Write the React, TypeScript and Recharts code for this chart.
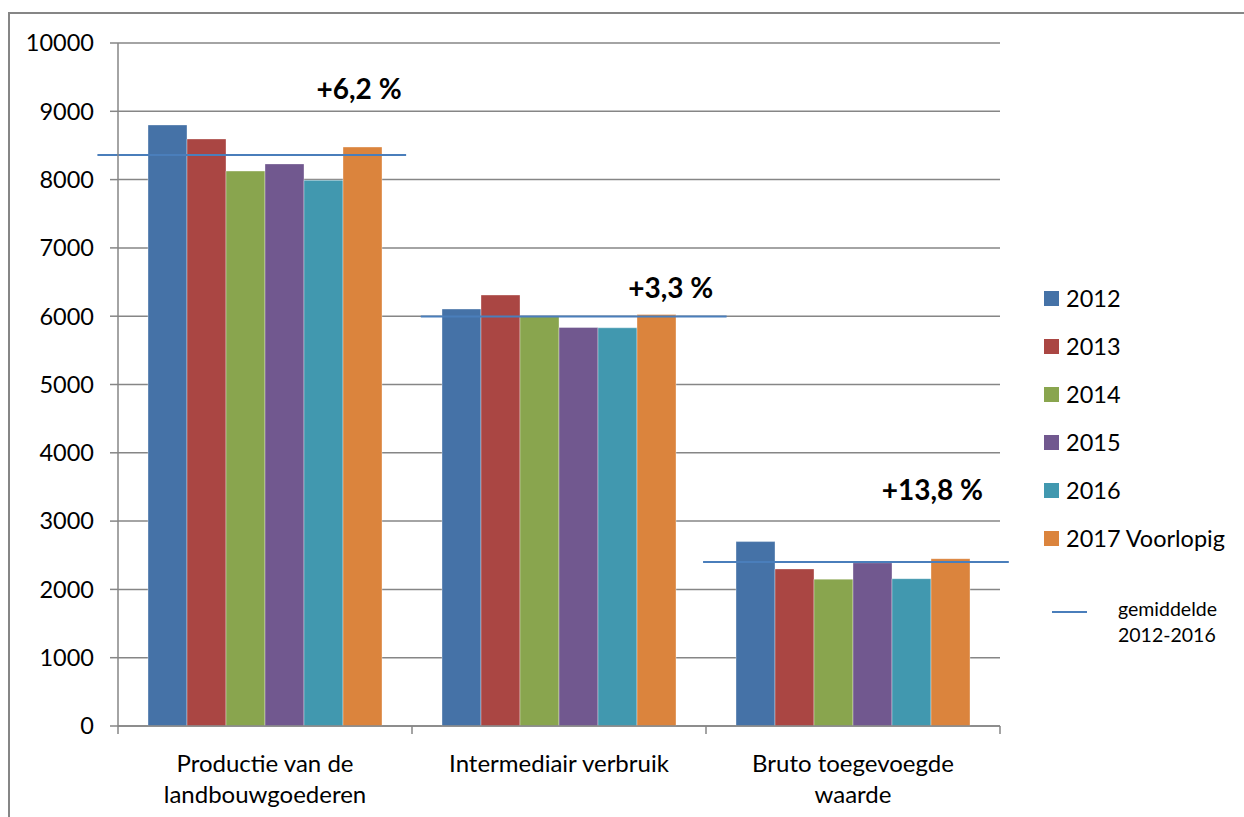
import React from 'react';
import {
  BarChart,
  Bar,
  XAxis,
  YAxis,
  CartesianGrid,
  ReferenceLine,
  ReferenceDot,
} from 'recharts';

const categories = ['Productie van de landbouwgoederen', 'Intermediair verbruik', 'Bruto toegevoegde waarde'];
const categoryLines = [['Productie van de', 'landbouwgoederen'], ['Intermediair verbruik'], ['Bruto toegevoegde', 'waarde']];
const seriesNames = ['2012', '2013', '2014', '2015', '2016', '2017 Voorlopig'];
const v2012 = [8800, 6105, 2700];
const v2013 = [8595, 6310, 2300];
const v2014 = [8125, 5995, 2150];
const v2015 = [8230, 5835, 2390];
const v2016 = [7990, 5830, 2157];
const v2017 = [8477, 6025, 2450];
const averages = [8360, 5995, 2400];
const changeLabels = ['+6,2 %', '+3,3 %', '+13,8 %'];
const yTicks = [0, 1000, 2000, 3000, 4000, 5000, 6000, 7000, 8000, 9000, 10000];
// boundaries (integers) get a tick mark, centres (halves) get the category label
const xTicks = [0, 0.5, 1, 1.5, 2, 2.5, 3];

const colors = ['#4572A7', '#AA4643', '#89A54E', '#71588F', '#4198AF', '#DB843D'];
const avgColor = '#4A7EBB';
const gridColor = '#868686';
const font = 'Lato, "Open Sans", sans-serif';

// layout of the average lines and % labels, in category units on the numeric axis
const avgSpan = [[-0.07, 0.98], [1.03, 2.07], [1.99, 3.03]];
const labelPos = [[0.82, 9330], [1.88, 6410], [2.77, 3450]];

const allValues = [v2012, v2013, v2014, v2015, v2016, v2017];
const data = categories.map((name, i) => {
  const row: Record<string, string | number> = { name, idx: i + 0.5 };
  seriesNames.forEach((s, k) => {
    row[s] = allValues[k][i];
  });
  return row;
});

function BottomTick(props: any) {
  const { x, y, payload } = props;
  const v = payload.value as number;
  if (Number.isInteger(v)) {
    return <line x1={x} x2={x} y1={y} y2={y + 8} stroke={gridColor} strokeWidth={1.5} />;
  }
  const lines = categoryLines[Math.floor(v)] ?? [];
  return (
    <g>
      {lines.map((line, i) => (
        <text
          key={i}
          x={x}
          y={y + 36 + i * 31}
          textAnchor="middle"
          dominantBaseline="central"
          fontSize={24}
          fontFamily={font}
          fill="#000"
        >
          {line}
        </text>
      ))}
    </g>
  );
}

export default function App() {
  return (
    <div
      style={{
        position: 'absolute',
        left: 0,
        top: 0,
        width: 1244,
        height: 817,
        overflow: 'hidden',
        background: '#fff',
        fontFamily: font,
      }}
    >
      <div
        style={{
          position: 'absolute',
          left: 8,
          top: 12,
          width: 1244,
          height: 817,
          borderLeft: `2px solid ${gridColor}`,
          borderTop: `2px solid ${gridColor}`,
        }}
      />
      <div style={{ position: 'absolute', left: 0, top: 0 }}>
        <BarChart
          width={1244}
          height={817}
          data={data}
          margin={{ top: 43, right: 244, bottom: 0, left: 18 }}
          barCategoryGap={30}
          barGap={0}
        >
          <CartesianGrid xAxisId="num" vertical={false} stroke={gridColor} strokeWidth={1.5} />
          <XAxis xAxisId="cat" dataKey="name" hide height={0} />
          <XAxis
            xAxisId="num"
            dataKey="idx"
            type="number"
            domain={[0, 3]}
            ticks={xTicks}
            interval={0}
            allowDataOverflow
            tickLine={false}
            tickSize={0}
            tickMargin={0}
            height={91}
            axisLine={{ stroke: gridColor, strokeWidth: 1.5 }}
            tick={<BottomTick />}
          />
          <YAxis
            width={100}
            domain={[0, 10000]}
            ticks={yTicks}
            interval={0}
            tickSize={8}
            tickMargin={16}
            axisLine={{ stroke: gridColor, strokeWidth: 1.5 }}
            tickLine={{ stroke: gridColor, strokeWidth: 1.5 }}
            tick={{ fill: '#000', fontSize: 23.5, fontFamily: font }}
          />
          {seriesNames.map((s, k) => (
            <Bar
              key={s}
              xAxisId="cat"
              dataKey={s}
              fill={colors[k]}
              stroke="#ffffff"
              strokeOpacity={0.35}
              strokeWidth={1}
              isAnimationActive={false}
            />
          ))}
          {averages.map((a, i) => (
            <ReferenceLine
              key={'avg' + i}
              xAxisId="num"
              ifOverflow="visible"
              segment={[
                { x: avgSpan[i][0], y: a },
                { x: avgSpan[i][1], y: a },
              ]}
              stroke={avgColor}
              strokeWidth={2}
            />
          ))}
          {changeLabels.map((t, i) => (
            <ReferenceDot
              key={'lbl' + i}
              xAxisId="num"
              x={labelPos[i][0]}
              y={labelPos[i][1]}
              r={0}
              fill="none"
              stroke="none"
              ifOverflow="visible"
              label={{
                value: t,
                position: 'center',
                fontSize: 28,
                fontWeight: 700,
                fontFamily: font,
                fill: '#000',
              }}
            />
          ))}
        </BarChart>
      </div>
      <div style={{ position: 'absolute', left: 1044, top: 274 }}>
        {seriesNames.map((s, k) => (
          <div key={s} style={{ display: 'flex', alignItems: 'center', height: 48 }}>
            <div style={{ width: 15, height: 15, background: colors[k], marginRight: 7 }} />
            <span style={{ fontSize: 23.5, color: '#000', lineHeight: '48px' }}>{s}</span>
          </div>
        ))}
      </div>
      <div style={{ position: 'absolute', left: 1052, top: 611, width: 35, height: 2, background: avgColor }} />
      <div
        style={{
          position: 'absolute',
          left: 1118,
          top: 596,
          fontSize: 19.5,
          lineHeight: '26px',
          color: '#000',
        }}
      >
        gemiddelde
        <br />
        2012-2016
      </div>
    </div>
  );
}
